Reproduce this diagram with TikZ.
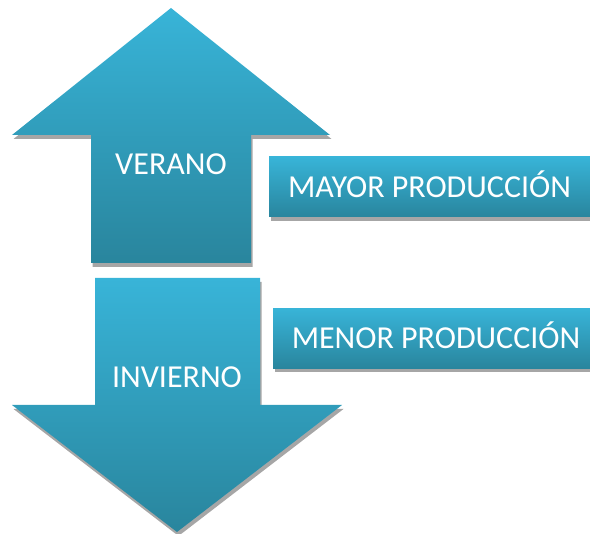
\documentclass[tikz,border=0pt]{standalone}
\usepackage{fontspec}
\setmainfont{Carlito}
\usepackage{tikz}
\usetikzlibrary{positioning,shadows}
\definecolor{skytop}{HTML}{38B4D8}
\definecolor{skybot}{HTML}{29859D}
\definecolor{shadowgray}{HTML}{A6A6A6}

\begin{document}
\begin{tikzpicture}[x=1pt, y=-1pt,
	bluefill/.style={shade, top color=skytop, bottom color=skybot,
		drop shadow={shadow xshift=1.5pt, shadow yshift=-4pt, opacity=1, fill=shadowgray}},
	season/.style={text=white, font=\fontsize{32}{38}\selectfont},
	prodbox/.style={bluefill, text=white, font=\fontsize{32}{38}\selectfont, minimum height=60pt, inner sep=0pt, text height=21pt, text depth=0pt}]
			\useasboundingbox (0,0) rectangle (590,534) ;
			\path[bluefill] (171,8) -- (330,135) -- (251,135) -- (251,263) -- (91,263) -- (91,135) -- (12,135) -- cycle ; % arriba
			\path[bluefill] (95,278) -- (260,278) -- (260,405) -- (342,405) -- (177,532) -- (12,405) -- (95,405) -- cycle ; % abajo
			\node[season] (Verano) at (171,164) {VERANO} ;
			\node[season] (Invierno) at (177,377) {INVIERNO} ;
			\node[prodbox, minimum width=321pt] (Mayor) at (429.5,187) {MAYOR PRODUCCIÓN} ;
			\node[prodbox, minimum width=326pt, below=91pt of Mayor, xshift=6.5pt] (Menor) {MENOR PRODUCCIÓN} ;
		\end{tikzpicture}
\end{document}
